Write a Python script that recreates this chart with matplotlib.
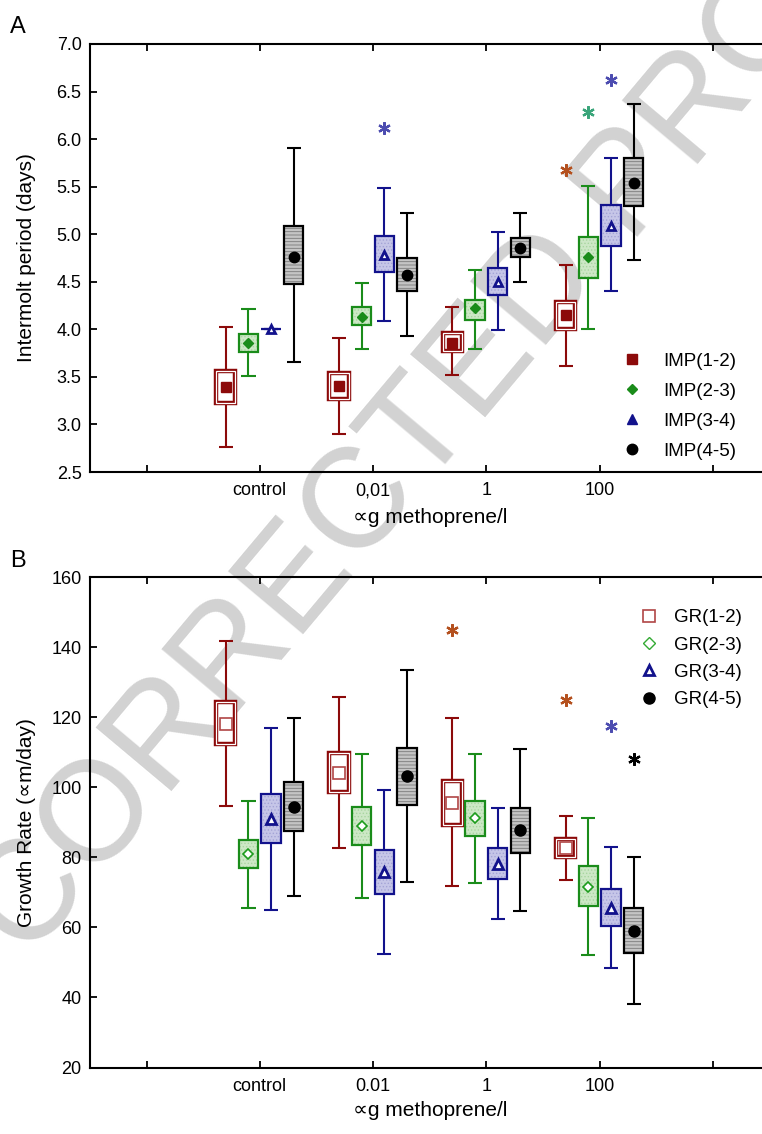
import matplotlib
matplotlib.use('Agg')
import matplotlib.pyplot as plt
from matplotlib.patches import Rectangle
from matplotlib.lines import Line2D

plt.rcParams['font.family'] = ['Liberation Sans', 'DejaVu Sans']
plt.rcParams['hatch.linewidth'] = 0.6

groups = ['control', '0,01', '1', '100']
groups_b = ['control', '0.01', '1', '100']
group_pos = [2, 3, 4, 5]
offsets = [-0.3, -0.1, 0.1, 0.3]

# Intermolt period (days): whisker low, box low, mean, box high, whisker high
imp_lo = {
    'IMP(1-2)': [2.76, 2.90, 3.52, 3.61],
    'IMP(2-3)': [3.51, 3.79, 3.79, 4.00],
    'IMP(3-4)': [4.00, 4.09, 3.99, 4.40],
    'IMP(4-5)': [3.66, 3.93, 4.50, 4.73],
}
imp_q1 = {
    'IMP(1-2)': [3.23, 3.27, 3.77, 4.00],
    'IMP(2-3)': [3.76, 4.05, 4.10, 4.54],
    'IMP(3-4)': [4.00, 4.60, 4.36, 4.88],
    'IMP(4-5)': [4.48, 4.40, 4.76, 5.30],
}
imp_mean = {
    'IMP(1-2)': [3.39, 3.40, 3.86, 4.15],
    'IMP(2-3)': [3.86, 4.13, 4.22, 4.76],
    'IMP(3-4)': [4.00, 4.78, 4.50, 5.09],
    'IMP(4-5)': [4.76, 4.57, 4.85, 5.54],
}
imp_q3 = {
    'IMP(1-2)': [3.56, 3.54, 3.96, 4.29],
    'IMP(2-3)': [3.95, 4.23, 4.31, 4.97],
    'IMP(3-4)': [4.00, 4.98, 4.64, 5.31],
    'IMP(4-5)': [5.09, 4.75, 4.96, 5.80],
}
imp_hi = {
    'IMP(1-2)': [4.02, 3.91, 4.23, 4.68],
    'IMP(2-3)': [4.21, 4.49, 4.62, 5.51],
    'IMP(3-4)': [4.00, 5.49, 5.02, 5.80],
    'IMP(4-5)': [5.91, 5.22, 5.22, 6.37],
}
# significance stars: (group index, series index, y)
imp_stars = [(1, 2, 6.12), (3, 0, 5.68), (3, 1, 6.29), (3, 2, 6.62)]

# Growth rate
gr_lo = {
    'GR(1-2)': [94.7, 82.6, 71.8, 73.5],
    'GR(2-3)': [65.6, 68.3, 72.7, 52.1],
    'GR(3-4)': [65.1, 52.5, 62.4, 48.5],
    'GR(4-5)': [69.0, 73.0, 64.6, 38.1],
}
gr_q1 = {
    'GR(1-2)': [112.3, 98.6, 89.4, 80.2],
    'GR(2-3)': [76.9, 83.6, 86.1, 66.0],
    'GR(3-4)': [84.0, 69.6, 73.8, 60.3],
    'GR(4-5)': [87.5, 94.9, 81.4, 52.7],
}
gr_mean = {
    'GR(1-2)': [118.1, 104.2, 95.6, 82.6],
    'GR(2-3)': [80.9, 89.1, 91.2, 71.6],
    'GR(3-4)': [91.0, 75.8, 78.1, 65.5],
    'GR(4-5)': [94.4, 103.2, 87.9, 59.0],
}
gr_q3 = {
    'GR(1-2)': [124.5, 109.7, 101.9, 85.2],
    'GR(2-3)': [84.9, 94.4, 96.1, 77.5],
    'GR(3-4)': [98.0, 82.2, 82.8, 70.9],
    'GR(4-5)': [101.4, 111.3, 94.2, 65.5],
}
gr_hi = {
    'GR(1-2)': [141.9, 125.8, 119.7, 91.9],
    'GR(2-3)': [96.2, 109.6, 109.4, 91.3],
    'GR(3-4)': [117.0, 99.2, 94.2, 82.9],
    'GR(4-5)': [119.9, 133.4, 111.1, 80.2],
}
gr_stars = [(2, 0, 145.0), (3, 0, 124.9), (3, 2, 117.6), (3, 3, 108.0)]

line_colors = ['#8c0a0a', '#1a8c1a', '#12128c', '#000000']
fill_colors = ['white', '#cde8c6', '#c6c6e8', '#c4c4c4']
hatch_colors = ['white', '#a9d6a0', '#a4a4d6', '#7a7a7a']
hatches = [None, '.....', '.....', '-----']
star_colors = ['#b4501e', '#3aa57a', '#4c4cb0', '#000000']

BOX_W = 0.17
CAP_W = 0.125


def draw_box(ax, x, lo, q1, q3, hi, k):
    col = line_colors[k]
    ax.vlines(x, lo, q1, color=col, lw=1.5, zorder=2)
    ax.vlines(x, q3, hi, color=col, lw=1.5, zorder=2)
    ax.hlines([lo, hi], x - CAP_W / 2, x + CAP_W / 2, color=col, lw=1.5, zorder=2)
    if k == 0:
        # double outline box
        ax.add_patch(Rectangle((x - BOX_W / 2, q1), BOX_W, q3 - q1,
                               facecolor='white', edgecolor=col, lw=3.2, zorder=3))
        ax.add_patch(Rectangle((x - BOX_W / 2, q1), BOX_W, q3 - q1,
                               facecolor='none', edgecolor='white', lw=0.9, zorder=3))
    else:
        ax.add_patch(Rectangle((x - BOX_W / 2, q1), BOX_W, q3 - q1,
                               facecolor=fill_colors[k], edgecolor=hatch_colors[k],
                               hatch=hatches[k], lw=0, zorder=3))
        ax.add_patch(Rectangle((x - BOX_W / 2, q1), BOX_W, q3 - q1,
                               facecolor='none', edgecolor=col, lw=1.6, zorder=3))


def draw_panel(ax, lo, q1, mean, q3, hi, stars, markers):
    names = list(lo.keys())
    for k, name in enumerate(names):
        for g, gx in enumerate(group_pos):
            x = gx + offsets[k]
            draw_box(ax, x, lo[name][g], q1[name][g], q3[name][g], hi[name][g], k)
        xs = [gx + offsets[k] for gx in group_pos]
        ax.plot(xs, mean[name], linestyle='none', zorder=4, **markers[k])
    for g, k, y in stars:
        ax.plot(group_pos[g] + offsets[k], y, marker=(6, 2, 0), ms=9, mew=1.6,
                color=star_colors[k], linestyle='none', zorder=4)


def style_axes(ax, ylim, yticks, yfmt, xlabels):
    ax.set_facecolor('none')
    ax.set_xlim(0.5, 6.5)
    ax.set_ylim(*ylim)
    ax.set_yticks(yticks)
    ax.set_yticklabels([yfmt.format(v) for v in yticks])
    ax.set_xticks([1, 2, 3, 4, 5, 6])
    ax.set_xticklabels([''] + xlabels + [''])
    ax.tick_params(axis='x', direction='in', length=5, width=1.3, top=True,
                   labelsize=13, pad=7.5)
    ax.tick_params(axis='y', direction='in', length=5, width=1.3, right=False,
                   labelsize=13, pad=6)
    for sp in ax.spines.values():
        sp.set_linewidth(1.5)


fig = plt.figure(figsize=(7.62, 11.34), dpi=100)
W, H = 762.0, 1134.0

# panel A: x from 89.9 to 769.5 px, y from 44 to 472 px
ax1 = fig.add_axes([89.9 / W, 1 - 472 / H, 679.6 / W, 428 / H])
# panel B: y from 577.3 to 1067.5 px
ax2 = fig.add_axes([89.9 / W, 1 - 1067.5 / H, 679.6 / W, 490.2 / H])

top_markers = [
    dict(marker='s', ms=7.5, color='#8c0a0a'),
    dict(marker='D', ms=5, color='#1a8c1a'),
    dict(marker='^', ms=5.5, mfc='white', mec='#12128c', mew=2),
    dict(marker='o', ms=7.5, color='black'),
]
bot_markers = [
    dict(marker='s', ms=8, mfc='white', mec='#b04646', mew=1.2),
    dict(marker='D', ms=5.5, mfc='white', mec='#1c9c1c', mew=1.2),
    dict(marker='^', ms=6.5, mfc='white', mec='#12128c', mew=2),
    dict(marker='o', ms=8, color='black'),
]

draw_panel(ax1, imp_lo, imp_q1, imp_mean, imp_q3, imp_hi, imp_stars, top_markers)
draw_panel(ax2, gr_lo, gr_q1, gr_mean, gr_q3, gr_hi, gr_stars, bot_markers)

style_axes(ax1, (2.5, 7.0), [2.5, 3.0, 3.5, 4.0, 4.5, 5.0, 5.5, 6.0, 6.5, 7.0],
           '{:.1f}', groups)
style_axes(ax2, (20, 160), [20, 40, 60, 80, 100, 120, 140, 160], '{:.0f}', groups_b)

ax1.set_ylabel('Intermolt period (days)', fontsize=15)
ax1.yaxis.set_label_coords(-0.079, 0.5)
ax1.set_xlabel('∝g methoprene/l', fontsize=15)
ax1.xaxis.set_label_coords(0.5, -0.083)
ax2.set_ylabel('Growth Rate (∝m/day)', fontsize=15)
ax2.yaxis.set_label_coords(-0.079, 0.5)
ax2.set_xlabel('∝g methoprene/l', fontsize=15)
ax2.xaxis.set_label_coords(0.5, -0.068)

leg_top = [Line2D([], [], linestyle='none', **m) for m in top_markers]
leg_top[2] = Line2D([], [], linestyle='none', marker='^', ms=6.5, color='#12128c')
ax1.legend(leg_top, list(imp_lo.keys()), loc='upper left',
           bbox_to_anchor=(0.7838, 0.2787), frameon=False, fontsize=13.5,
           handlelength=1, handletextpad=1.15, borderpad=0, borderaxespad=0,
           labelspacing=0.685)

leg_bot = [Line2D([], [], linestyle='none', **m) for m in bot_markers]
leg_bot[1] = Line2D([], [], linestyle='none', marker='D', ms=6, mfc='white',
                    mec='#33aa33', mew=1)
ax2.legend(leg_bot, list(gr_lo.keys()), loc='upper left',
           bbox_to_anchor=(0.809, 0.9346), frameon=False, fontsize=13.5,
           handlelength=1, handletextpad=0.85, borderpad=0, borderaxespad=0,
           labelspacing=0.54)

fig.text(10 / W, 1 - 33 / H, 'A', fontsize=17)
fig.text(10 / W, 1 - 567 / H, 'B', fontsize=17)

# diagonal watermark behind the data
fig.text(28 / W, 1 - 962 / H, 'CORRECTED PROOF', fontsize=102, color='#d2d2d2',
         rotation=50, rotation_mode='anchor', ha='left', va='baseline', zorder=-1)

fig.savefig('out.png', dpi=100)
